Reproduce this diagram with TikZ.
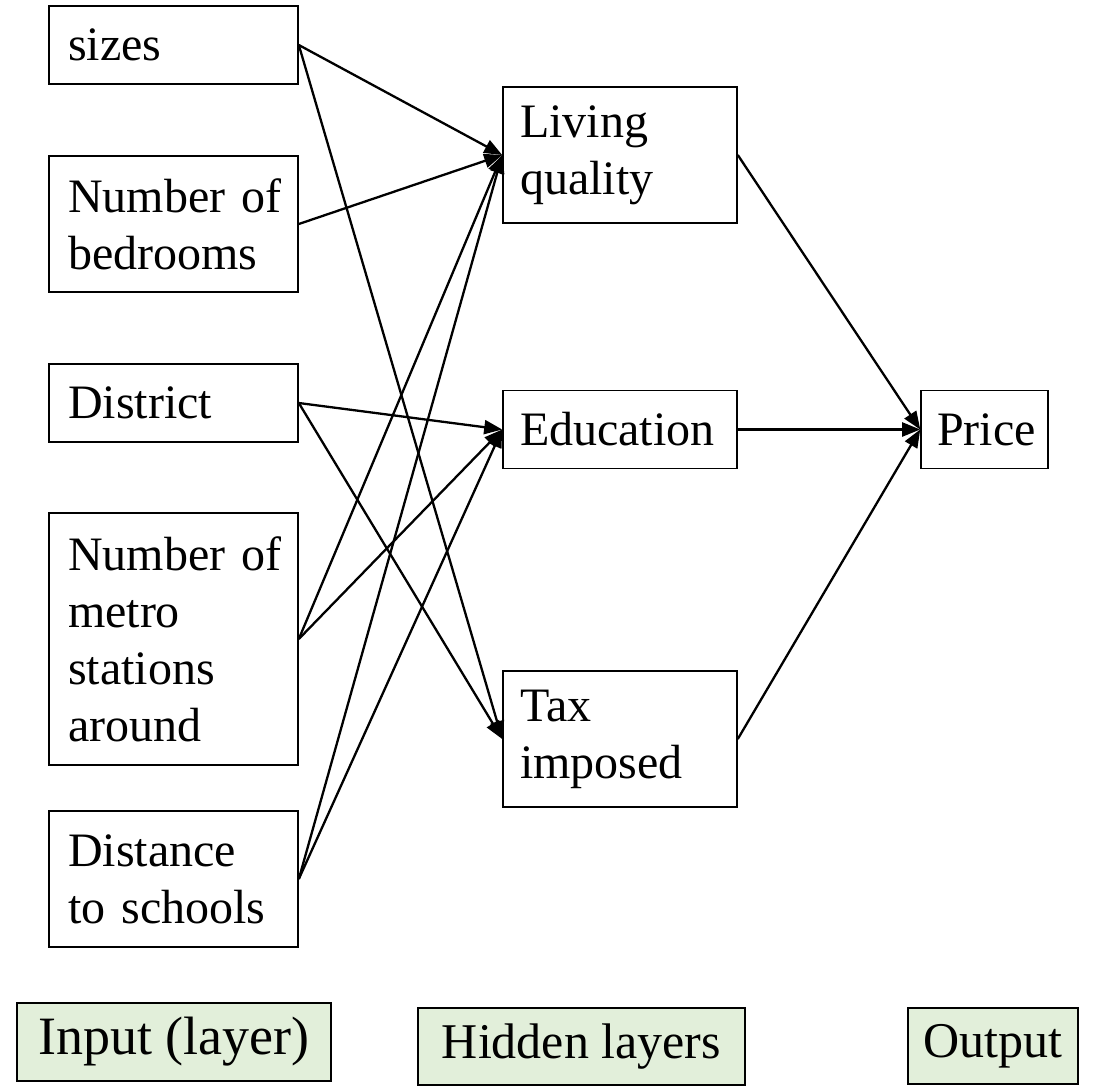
\documentclass[tikz,border=0pt]{standalone}
\usepackage{fontspec}
\setmainfont{Liberation Serif}
\usetikzlibrary{arrows.meta}
\definecolor{legendfill}{RGB}{226,239,218}
\tikzset{
  box/.style={draw, line width=1.6pt, rectangle, align=left, font=\fontsize{48}{57}\selectfont,
    inner ysep=0pt},
  inbox/.style={box, minimum width=249pt, text width=221pt, inner xsep=14pt},
  hidbox/.style={box, minimum width=234pt, text width=210pt, inner xsep=12pt},
  outbox/.style={box, minimum width=127pt, text width=103pt, inner xsep=12pt},
  legend/.style={draw, line width=1.6pt, fill=legendfill, align=center,
    font=\fontsize{50}{58}\selectfont, inner sep=0pt},
  link/.style={line width=2.3pt, -{Triangle[length=18pt,width=14pt]}}
}
\begin{document}
\begin{tikzpicture}[x=1pt,y=-1pt]
  \useasboundingbox[fill=white] (0,0) rectangle (1111,1090);

  % input layer
  \node[inbox, minimum height=78pt]  (sizes) at (173.5,45)  {\hspace*{5pt}sizes};
  \node[inbox, minimum height=136pt] (bed)   at (173.5,224) {\hspace*{5pt}Number of\\\hspace*{5pt}bedrooms};
  \node[inbox, minimum height=78pt]  (dist)  at (173.5,403) {\hspace*{5pt}District};
  \node[inbox, minimum height=252pt] (metro) at (173.5,639) {\hspace*{5pt}Number of\\\hspace*{5pt}metro\\\hspace*{5pt}stations\\\hspace*{5pt}around};
  \node[inbox, minimum height=136pt] (school) at (173.5,879) {\hspace*{5pt}Distance\\\hspace*{5pt}to schools};

  % hidden layer
  \node[hidbox, minimum height=136pt] (living) at (620,155) {\hspace*{5pt}Living\\\hspace*{5pt}quality};
  \node[hidbox, minimum height=78pt]  (edu)    at (620,429.5) {\hspace*{5pt}Education};
  \node[hidbox, minimum height=136pt] (tax)    at (620,739) {\hspace*{5pt}Tax\\\hspace*{5pt}imposed};

  % output
  \node[outbox, minimum height=78pt] (price) at (984.5,429.5) {\hspace*{4pt}Price};

  % connections
  \draw[link] (sizes.east)  -- (living.west);
  \draw[link] (sizes.east)  -- (tax.west);
  \draw[link] (bed.east)    -- (living.west);
  \draw[link] (dist.east)   -- (edu.west);
  \draw[link] (dist.east)   -- (tax.west);
  \draw[link] (metro.east)  -- (living.west);
  \draw[link] (metro.east)  -- (edu.west);
  \draw[link] (school.east) -- (living.west);
  \draw[link] (school.east) -- (edu.west);
  \draw[link] (living.east) -- (price.west);
  \draw[link] (edu.east)    -- (price.west);
  \draw[link] (tax.east)    -- (price.west);

  % legend
  \node[legend, minimum width=314pt, minimum height=78pt,
        font=\fontsize{54}{62}\selectfont] (linput) at (174,1042) {Input (layer)};
  \node[legend, minimum width=327pt, minimum height=77pt] (lhidden) at (581.5,1046.5) {Hidden layers};
  \node[legend, minimum width=170pt, minimum height=76pt] (loutput) at (993,1046)    {Output};
\end{tikzpicture}
\end{document}
